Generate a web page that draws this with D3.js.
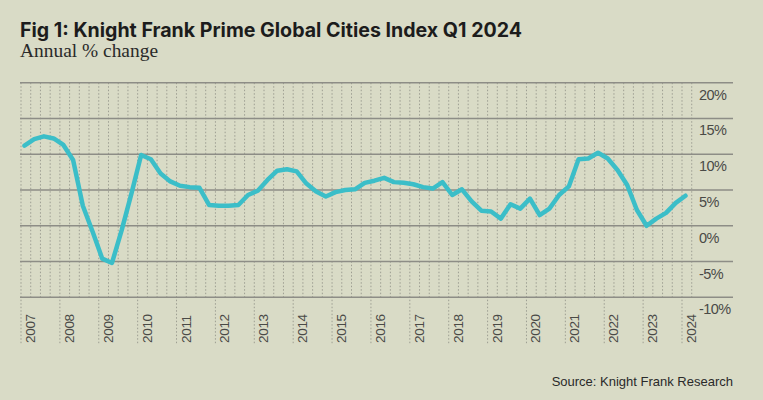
<!DOCTYPE html>
<html>
<head>
<meta charset="utf-8">
<script src="https://cdn.jsdelivr.net/npm/d3@7"></script>
<style>
  html, body { margin: 0; padding: 0; background: #d9dbc6; }
  svg { display: block; }
</style>
</head>
<body>
<svg id="chart" width="763" height="400"></svg>
<script>
// ---- Data ----
const title = "Fig 1: Knight Frank Prime Global Cities Index Q1 2024";
const subtitle = "Annual % change";
const source = "Source: Knight Frank Research";
const startYear = 2007;
const yearLabels = ["2007","2008","2009","2010","2011","2012","2013","2014","2015","2016","2017","2018","2019","2020","2021","2022","2023","2024"];
const yTicks = [20, 15, 10, 5, 0, -5, -10];
// quarterly annual % change, 2007 Q1 .. 2024 Q1
const values = [
  11.2, 12.1, 12.5, 12.2,   // 2007
  11.3, 9.2, 2.8, -0.8,     // 2008
  -4.6, -5.2, -0.6, 4.5,    // 2009
  9.9, 9.3, 7.3, 6.2,       // 2010
  5.6, 5.4, 5.3, 2.9,       // 2011
  2.8, 2.8, 2.9, 4.3,       // 2012
  4.9, 6.4, 7.7, 7.9,       // 2013
  7.6, 5.9, 4.8, 4.1,       // 2014
  4.7, 5.0, 5.1, 6.0,       // 2015
  6.3, 6.7, 6.1, 6.0,       // 2016
  5.8, 5.4, 5.2, 6.1,       // 2017
  4.3, 5.1, 3.4, 2.1,       // 2018
  2.0, 1.0, 3.0, 2.4,       // 2019
  3.8, 1.5, 2.4, 4.3,       // 2020
  5.5, 9.3, 9.4, 10.2,      // 2021
  9.4, 7.8, 5.7, 2.2,       // 2022
  0.0, 1.0, 1.8, 3.2,       // 2023
  4.2                       // 2024
];

// ---- Layout ----
const svg = d3.select("#chart");
const W = 763, H = 400;
const colors = { bg: "#d9dbc6", line: "#3bbec8", grid: "#8d8d86", dots: "#9d9e92", text: "#1c1c1c", axis: "#4a4a46" };

svg.append("rect").attr("width", W).attr("height", H).attr("fill", colors.bg);

const x = d3.scaleLinear().domain([2007, 2024]).range([21, 682]);
const y = d3.scaleLinear().domain([-10, 20]).range([297.3, 82.7]);
const plotTop = y(20), plotBottom = y(-10);

// vertical dotted quarterly lines
const quarterTicks = d3.range(0, (yearLabels.length - 1) * 4 + 2).map(q => startYear + q / 4);
svg.append("g").selectAll("line").data(quarterTicks).join("line")
  .attr("x1", d => x(d)).attr("x2", d => x(d))
  .attr("y1", plotTop)
  .attr("y2", d => (Math.abs(d - Math.round(d)) < 1e-9 && d <= 2024) ? 344 : plotBottom)
  .attr("stroke", colors.dots).attr("stroke-width", 1)
  .attr("stroke-dasharray", "1.5,2");

// horizontal gridlines
svg.append("g").selectAll("line").data(yTicks).join("line")
  .attr("x1", 20).attr("x2", 733)
  .attr("y1", d => y(d)).attr("y2", d => y(d))
  .attr("stroke", colors.grid).attr("stroke-width", 1.5);

// y labels
svg.append("g").selectAll("text").data(yTicks).join("text")
  .attr("x", 699).attr("y", d => y(d) + 17)
  .attr("font-family", "Liberation Sans, Arial, sans-serif")
  .attr("font-size", 14.5).attr("letter-spacing", "-0.6")
  .attr("fill", colors.axis)
  .text(d => (d < 0 ? "-" + Math.abs(d) : d) + "%");

// x labels (rotated)
svg.append("g").selectAll("text").data(yearLabels).join("text")
  .attr("transform", d => `translate(${x(+d) + 14},343) rotate(-90)`)
  .attr("font-family", "Liberation Sans, Arial, sans-serif")
  .attr("font-size", 13.5).attr("letter-spacing", "-0.3")
  .attr("fill", colors.axis)
  .text(d => d);

// line
const pts = values.map((v, i) => ({ t: startYear + (i + 0.36) / 4, v }));
svg.append("path").datum(pts)
  .attr("fill", "none").attr("stroke", colors.line)
  .attr("stroke-width", 4.5).attr("stroke-linejoin", "round").attr("stroke-linecap", "round")
  .attr("d", d3.line().x(d => x(d.t)).y(d => y(d.v)).curve(d3.curveLinear));

// title & subtitle
svg.append("text").attr("x", 20).attr("y", 37)
  .attr("font-family", "Inter, Liberation Sans, sans-serif").attr("font-weight", 700)
  .attr("font-size", 19.5).attr("fill", colors.text)
  .attr("textLength", 502).attr("lengthAdjust", "spacingAndGlyphs")
  .text(title);
svg.append("text").attr("x", 20).attr("y", 57)
  .attr("font-family", "Liberation Serif, Times New Roman, serif")
  .attr("font-size", 18).attr("fill", "#2a2a2a")
  .attr("textLength", 138).attr("lengthAdjust", "spacingAndGlyphs")
  .text(subtitle);

// source
svg.append("text").attr("x", 733).attr("y", 386).attr("text-anchor", "end")
  .attr("font-family", "Liberation Sans, Arial, sans-serif")
  .attr("font-size", 13).attr("fill", "#2a2a2a")
  .text(source);
</script>
</body>
</html>
